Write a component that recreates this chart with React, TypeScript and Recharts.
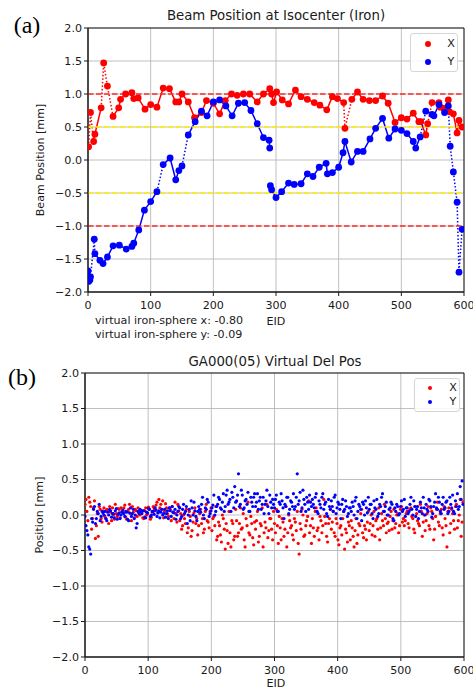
import React from 'react';
import { ComposedChart, Line, XAxis, YAxis, CartesianGrid, ReferenceLine, ReferenceArea } from 'recharts';

const FONT = "'DejaVu Sans', sans-serif";
const RED = '#ff0000';
const BLUE = '#0000ff';

// ---------- Panel (a): Beam Position at Isocenter (Iron) ----------
const xEid = [1, 4, 9, 11, 21, 25, 31, 40, 49, 52, 60, 70, 73, 80, 91, 100, 110, 120, 130, 140, 145, 150, 160, 170, 181, 189, 200, 210, 219, 229, 238, 248, 258, 270, 280, 290, 293, 296, 301, 310, 320, 331, 340, 350, 361, 370, 381, 390, 398, 408, 410, 421, 430, 439, 449, 459, 470, 479, 490, 500, 509, 519, 528, 531, 539, 542, 549, 560, 562, 568, 575, 577, 583, 589, 592, 597];
const xPos = [0.20, 0.72, 0.28, 0.39, 0.79, 1.47, 1.12, 0.66, 0.79, 0.92, 1.00, 1.02, 0.93, 0.94, 0.77, 0.84, 0.80, 1.09, 1.08, 0.88, 0.88, 1.00, 0.88, 0.64, 0.72, 0.90, 0.86, 0.70, 0.90, 1.00, 0.98, 1.00, 1.00, 0.88, 1.00, 1.08, 1.00, 0.87, 1.03, 0.91, 0.85, 1.06, 0.96, 0.92, 0.87, 0.83, 0.76, 0.96, 0.93, 0.87, 0.48, 0.92, 1.03, 0.92, 0.90, 0.90, 0.97, 0.86, 0.57, 0.64, 0.62, 0.71, 0.58, 0.58, 0.38, 0.55, 0.87, 0.87, 0.80, 0.78, 0.91, 0.73, 0.70, 0.41, 0.60, 0.50];
const xDottedFrom = [1, 4, 9, 21, 25, 31, 408, 410, 542];
const xBreakFrom: number[] = [];

const yEid = [0, 1, 3, 4, 10, 11, 19, 24, 31, 40, 50, 61, 70, 73, 81, 90, 100, 110, 120, 131, 140, 145, 150, 160, 171, 181, 190, 200, 210, 220, 230, 240, 250, 260, 270, 280, 289, 290, 291, 293, 300, 309, 320, 329, 340, 350, 359, 369, 380, 382, 390, 400, 407, 410, 420, 430, 439, 450, 459, 470, 480, 490, 500, 509, 519, 523, 530, 539, 549, 552, 560, 569, 575, 578, 583, 589, 592, 597];
const yPos = [-1.68, -1.84, -1.82, -1.77, -1.20, -1.42, -1.52, -1.57, -1.47, -1.30, -1.29, -1.35, -1.31, -1.26, -1.06, -0.76, -0.63, -0.48, -0.07, 0.03, -0.30, -0.16, -0.09, 0.38, 0.58, 0.74, 0.67, 0.88, 0.91, 0.82, 0.67, 0.86, 0.87, 0.75, 0.55, 0.34, 0.30, 0.18, -0.39, -0.45, -0.57, -0.48, -0.35, -0.37, -0.36, -0.21, -0.25, -0.11, -0.05, -0.21, -0.19, -0.11, 0.11, 0.28, -0.03, 0.13, 0.13, 0.32, 0.48, 0.63, 0.33, 0.47, 0.45, 0.40, 0.28, 0.18, 0.35, 0.74, 0.69, 0.67, 0.84, 0.72, 0.82, 0.21, -0.18, -0.64, -1.70, -1.05];
const yDottedFrom = [0, 1, 3, 4, 10, 110, 150, 530, 575, 578, 583, 589, 592];
const yBreakFrom = [290];

const annotX = 'virtual iron-sphere x: -0.80';
const annotY = 'virtual iron-sphere y: -0.09';

// ---------- Panel (b): GA000(05) Virtual Del Pos ----------
// two interleaved samplings: EIDs 0,3,6,... and 1.5,4.5,7.5,...
const delStep = 3;
const delOffset = 1.5;
const delX = [
  0.15, 0.05, 0.25, 0.12, -0.05, 0.20, -0.15, -0.30, 0.08, -0.10,
  0.10, -0.05, 0.05, 0.12, -0.08, 0.00, 0.15, -0.02, 0.08, 0.10,
  0.03, 0.14, -0.06, 0.08, 0.02, 0.12, -0.04, 0.06, 0.10, 0.00,
  0.05, -0.05, 0.10, 0.02, 0.08, -0.03, 0.12, 0.06, 0.18, 0.22,
  0.15, 0.20, 0.05, 0.10, -0.02, 0.08, 0.12, -0.05, 0.02, 0.15,
  -0.08, -0.20, 0.00, -0.12, -0.25, 0.05, -0.30, -0.10, 0.10, -0.05,
  -0.15, 0.08, -0.05, -0.20, 0.15, -0.10, 0.05, -0.22, -0.02, 0.12,
  -0.30, -0.15, -0.38, -0.05, -0.48, -0.22, 0.05, -0.45, -0.12, -0.30,
  -0.08, -0.25, 0.10, -0.18, -0.35, -0.05, 0.18, -0.28, -0.12, -0.42,
  -0.20, 0.05, -0.30, -0.15, -0.45, -0.10, 0.15, -0.22, -0.05, -0.35,
  -0.12, 0.08, -0.40, -0.18, -0.05, -0.30, 0.12, -0.25, -0.08, -0.15,
  -0.35, -0.10, 0.05, -0.55, -0.20, 0.00, -0.28, -0.08, 0.20, -0.15,
  -0.05, -0.30, 0.10, -0.18, -0.02, -0.25, 0.22, -0.12, -0.38, -0.05,
  -0.20, 0.05, -0.30, -0.12, -0.42, -0.15, -0.05, -0.48, -0.25, -0.10,
  -0.35, -0.18, -0.45, -0.05, -0.28, -0.15, 0.08, -0.32, -0.20, -0.10,
  -0.22, 0.00, -0.15, -0.30, -0.05, 0.10, -0.18, -0.08, 0.15, -0.25,
  -0.10, -0.02, -0.20, 0.08, -0.12, 0.02, -0.15, 0.12, -0.05, -0.08,
  0.05, -0.18, 0.10, -0.05, -0.25, 0.02, -0.12, 0.15, -0.30, 0.00,
  -0.08, 0.12, -0.20, 0.05, -0.35, -0.02, 0.18, -0.15, 0.08, -0.28,
  -0.05, -0.45, 0.10, -0.12, 0.02, -0.20, 0.15, -0.08, 0.22, -0.10,
];
const delXb = [
  0.22, -0.08, 0.18, -0.20, 0.10, -0.33, 0.02, 0.12, -0.05, 0.06,
  -0.02, 0.08, -0.12, 0.04, 0.10, -0.06, 0.02, 0.09, -0.04, 0.05,
  0.10, -0.03, 0.05, 0.15, -0.08, 0.04, 0.08, -0.02, 0.03, 0.07,
  -0.04, 0.06, 0.00, 0.11, -0.06, 0.04, 0.09, 0.14, 0.03, 0.10,
  0.08, -0.04, 0.16, 0.02, 0.10, -0.08, 0.04, 0.18, -0.10, 0.06,
  0.02, -0.15, -0.05, 0.08, -0.18, -0.02, -0.22, 0.03, -0.12, -0.28,
  0.02, -0.12, -0.25, 0.05, -0.08, -0.18, 0.10, -0.05, -0.15, -0.35,
  -0.10, -0.28, 0.00, -0.20, -0.12, -0.40, -0.25, -0.08, -0.35, 0.08,
  -0.30, -0.12, -0.20, 0.02, -0.45, -0.15, -0.25, -0.02, -0.32, -0.10,
  -0.08, -0.38, -0.12, 0.10, -0.25, -0.18, -0.32, -0.05, -0.20, 0.05,
  -0.25, -0.15, -0.02, -0.35, -0.10, -0.20, -0.45, 0.00, -0.18, -0.28,
  -0.05, -0.22, -0.40, -0.12, 0.08, -0.30, -0.15, -0.02, -0.25, -0.40,
  -0.18, 0.05, -0.22, -0.35, -0.08, -0.15, -0.02, -0.30, -0.12, 0.08,
  -0.10, -0.25, -0.05, -0.35, -0.18, -0.28, 0.05, -0.20, -0.38, -0.15,
  -0.08, -0.30, -0.22, -0.40, -0.12, 0.02, -0.25, -0.15, -0.35, 0.05,
  -0.12, -0.28, 0.05, -0.08, -0.20, -0.35, 0.02, -0.15, -0.05, -0.12,
  -0.22, 0.05, -0.08, -0.18, 0.00, -0.25, 0.08, -0.10, -0.15, 0.02,
  -0.12, 0.08, -0.02, -0.20, 0.12, -0.08, -0.15, 0.05, -0.10, -0.22,
  0.02, -0.15, 0.10, -0.05, -0.20, 0.08, -0.10, 0.02, -0.18, 0.12,
  -0.15, 0.05, -0.25, 0.08, -0.08, 0.12, -0.18, 0.00, -0.30, 0.18,
];
const delY = [
  -0.02, -0.22, -0.45, -0.55, -0.10, 0.12, -0.05, 0.02, -0.08, 0.05,
  0.00, -0.05, 0.04, 0.08, -0.03, 0.02, 0.06, -0.06, 0.03, 0.00,
  0.07, -0.02, 0.04, -0.08, 0.10, 0.02, -0.05, -0.18, 0.05, 0.08,
  0.02, 0.06, -0.04, 0.03, 0.08, 0.00, 0.05, 0.10, -0.02, 0.06,
  0.04, 0.00, 0.08, 0.02, -0.05, 0.06, 0.12, 0.03, -0.06, 0.05,
  0.10, -0.02, 0.15, 0.05, -0.12, 0.08, 0.20, 0.00, 0.06, -0.08,
  0.12, 0.04, 0.25, -0.05, 0.08, 0.18, 0.02, 0.10, 0.28, 0.05,
  0.15, 0.22, 0.08, 0.30, 0.12, 0.35, 0.18, 0.05, 0.25, 0.40,
  0.20, 0.58, 0.15, 0.28, 0.10, 0.22, 0.32, 0.05, 0.18, 0.25,
  0.12, 0.30, 0.20, 0.08, 0.25, 0.15, 0.35, 0.02, 0.18, 0.22,
  0.10, 0.28, 0.05, 0.15, 0.20, -0.05, 0.12, 0.25, 0.08, 0.18,
  0.30, 0.12, 0.58, 0.20, 0.05, 0.35, 0.15, 0.25, 0.08, 0.18,
  0.22, 0.10, 0.30, 0.02, 0.15, 0.25, 0.08, 0.18, -0.02, 0.12,
  0.20, 0.05, 0.28, 0.10, 0.15, -0.05, 0.22, 0.08, 0.12, 0.02,
  0.10, 0.18, 0.00, 0.25, 0.05, 0.12, -0.08, 0.15, 0.20, 0.03,
  0.08, 0.15, -0.05, 0.10, 0.22, 0.02, 0.12, 0.30, 0.05, 0.18,
  0.00, 0.10, 0.15, -0.08, 0.05, 0.12, 0.02, 0.20, 0.08, -0.02,
  0.10, 0.05, 0.25, 0.00, 0.12, 0.08, -0.05, 0.18, 0.02, 0.10,
  0.15, 0.05, 0.20, -0.03, 0.12, 0.30, 0.08, 0.18, 0.02, 0.25,
  0.10, 0.20, 0.05, 0.15, 0.28, 0.02, 0.12, 0.08, 0.40, 0.48,
];
const delYb = [
  -0.15, -0.28, -0.48, -0.05, 0.08, -0.12, 0.05, 0.15, -0.02, 0.03,
  0.05, -0.08, 0.00, 0.06, 0.02, -0.04, 0.09, 0.01, -0.05, 0.04,
  0.02, 0.05, -0.06, 0.03, -0.02, 0.08, 0.00, -0.12, 0.02, 0.05,
  0.06, -0.03, 0.04, 0.09, -0.02, 0.05, 0.01, 0.07, 0.03, -0.04,
  0.08, 0.02, -0.03, 0.06, 0.10, -0.02, 0.04, 0.08, 0.00, 0.12,
  -0.05, 0.08, 0.02, 0.12, 0.00, -0.08, 0.10, 0.18, -0.02, 0.05,
  0.08, 0.15, 0.00, 0.10, 0.22, -0.02, 0.06, 0.14, 0.00, 0.12,
  0.25, 0.10, 0.18, 0.05, 0.28, 0.15, 0.22, 0.32, 0.10, 0.18,
  0.28, 0.12, 0.35, 0.08, 0.20, 0.15, 0.05, 0.25, 0.12, 0.30,
  0.18, 0.08, 0.25, 0.15, 0.02, 0.20, 0.12, 0.28, 0.10, 0.15,
  0.22, 0.05, 0.18, 0.30, 0.10, 0.15, 0.25, 0.02, 0.20, 0.12,
  0.08, 0.25, 0.15, 0.32, 0.10, 0.22, 0.05, 0.18, 0.28, 0.12,
  0.15, 0.25, 0.05, 0.20, 0.10, 0.30, 0.15, 0.02, 0.22, 0.08,
  0.12, 0.25, 0.02, 0.18, 0.08, 0.15, 0.05, 0.20, -0.02, 0.10,
  0.05, 0.12, 0.20, -0.05, 0.15, 0.08, 0.18, 0.00, 0.10, 0.25,
  0.15, 0.02, 0.20, 0.08, -0.02, 0.15, 0.25, 0.05, 0.12, 0.00,
  0.08, 0.18, -0.05, 0.10, 0.15, 0.00, 0.12, 0.05, 0.22, 0.10,
  0.02, 0.15, 0.08, 0.20, -0.02, 0.12, 0.05, 0.10, 0.25, 0.00,
  0.08, 0.22, 0.12, 0.02, 0.18, 0.10, 0.25, 0.05, 0.15, 0.08,
  0.18, 0.02, 0.25, 0.10, 0.05, 0.20, 0.30, 0.12, 0.22, 0.15,
];

const xTicks = [0, 100, 200, 300, 400, 500, 600];
const yTicks = [-2, -1.5, -1, -0.5, 0, 0.5, 1, 1.5, 2];
const fmtY = (v: number) => (v < 0 ? '\u2212' + Math.abs(v).toFixed(1) : v.toFixed(1));

type P = { eid: number; v: number | null };

function buildLines(eids: number[], vals: number[], dottedFrom: number[], breakFrom: number[]) {
  const solid: P[] = [];
  const dotted: P[] = [];
  const all: P[] = [];
  for (let i = 0; i < eids.length; i++) {
    const p = { eid: eids[i], v: vals[i] };
    all.push(p);
    solid.push(p);
    dotted.push(p);
    if (i < eids.length - 1) {
      const mid = (eids[i] + eids[i + 1]) / 2;
      const isDot = dottedFrom.includes(eids[i]);
      const isBreak = breakFrom.includes(eids[i]);
      if (isDot || isBreak) solid.push({ eid: mid, v: null });
      if (!isDot || isBreak) dotted.push({ eid: mid, v: null });
    }
  }
  return { solid, dotted, all };
}

function buildScatter(a: number[], b: number[]): P[] {
  const out: P[] = [];
  a.forEach((v, i) => {
    out.push({ eid: i * delStep, v });
    if (b[i] !== undefined) out.push({ eid: i * delStep + delOffset, v: b[i] });
  });
  return out;
}

const redA = buildLines(xEid, xPos, xDottedFrom, xBreakFrom);
const blueA = buildLines(yEid, yPos, yDottedFrom, yBreakFrom);
const redB = buildScatter(delX, delXb);
const blueB = buildScatter(delY, delYb);

const tickStyle = { fontSize: 11.1, fill: '#1a1a1a', fontFamily: FONT };

function Txt(props: { x: number; y: number; size: number; children: React.ReactNode; rotate?: boolean; left?: boolean; serif?: boolean }) {
  const { x, y, size, children, rotate, left, serif } = props;
  const tr = left ? 'translate(0,-50%)' : 'translate(-50%,-50%)' + (rotate ? ' rotate(-90deg)' : '');
  return (
    <div
      style={{
        position: 'absolute',
        left: x,
        top: y,
        transform: tr,
        fontSize: size,
        fontFamily: serif ? "'Liberation Serif', 'DejaVu Serif', serif" : FONT,
        color: serif ? '#000' : '#1a1a1a',
        whiteSpace: 'nowrap',
        lineHeight: 1,
      }}
    >
      {children}
    </div>
  );
}

function LegendBox(props: { x: number; y: number; w: number; h: number; r: number; dx: number; tx: number; rows: number[] }) {
  const { x, y, w, h, r, dx, tx, rows } = props;
  const items = [
    { label: 'X', color: RED },
    { label: 'Y', color: BLUE },
  ];
  return (
    <div
      style={{
        position: 'absolute',
        left: x,
        top: y,
        width: w,
        height: h,
        boxSizing: 'border-box',
        border: '1px solid #d6d6d6',
        borderRadius: 3,
        background: 'rgba(255,255,255,0.85)',
      }}
    >
      {items.map((it, i) => (
        <React.Fragment key={it.label}>
          <div
            style={{
              position: 'absolute',
              left: dx - r,
              top: rows[i] - r,
              width: 2 * r,
              height: 2 * r,
              borderRadius: '50%',
              background: it.color,
            }}
          />
          <div
            style={{
              position: 'absolute',
              left: tx,
              top: rows[i],
              transform: 'translate(-50%,-50%)',
              fontSize: 11.1,
              fontFamily: FONT,
              color: '#1a1a1a',
              lineHeight: 1,
            }}
          >
            {it.label}
          </div>
        </React.Fragment>
      ))}
    </div>
  );
}

function Frame() {
  return <ReferenceArea x1={0} x2={600} y1={-2} y2={2} fill="none" fillOpacity={0} stroke="#1a1a1a" strokeWidth={1} ifOverflow="visible" />;
}

export default function App() {
  return (
    <div style={{ position: 'absolute', left: 0, top: 0, width: 473, height: 687, background: '#fff', overflow: 'hidden' }}>
      {/* Panel (a) */}
      <div style={{ position: 'absolute', left: 0, top: 0 }}>
        <ComposedChart width={473} height={345} margin={{ top: 28, right: 9, bottom: 33, left: 0 }}>
          <CartesianGrid stroke="#b0b0b0" strokeWidth={0.8} />
          <XAxis
            type="number"
            dataKey="eid"
            domain={[0, 600]}
            ticks={xTicks}
            allowDataOverflow
            height={20}
            tickSize={4}
            tickMargin={5}
            tick={tickStyle}
            stroke="#1a1a1a"
          />
          <YAxis
            type="number"
            dataKey="v"
            domain={[-2, 2]}
            ticks={yTicks}
            allowDataOverflow
            width={88}
            tickSize={4}
            tickMargin={2}
            tick={tickStyle}
            tickFormatter={fmtY}
            stroke="#1a1a1a"
          />
          <Line data={redA.dotted} dataKey="v" stroke={RED} strokeWidth={1.5} strokeDasharray="1.5 2" dot={false} connectNulls={false} isAnimationActive={false} />
          <Line data={redA.solid} dataKey="v" stroke={RED} strokeWidth={1.5} dot={false} connectNulls={false} isAnimationActive={false} />
          <Line data={redA.all} dataKey="v" stroke="none" dot={{ r: 3.4, fill: RED, stroke: RED, strokeWidth: 0 }} isAnimationActive={false} />
          <Line data={blueA.dotted} dataKey="v" stroke={BLUE} strokeWidth={1.5} strokeDasharray="1.5 2" dot={false} connectNulls={false} isAnimationActive={false} />
          <Line data={blueA.solid} dataKey="v" stroke={BLUE} strokeWidth={1.5} dot={false} connectNulls={false} isAnimationActive={false} />
          <Line data={blueA.all} dataKey="v" stroke="none" dot={{ r: 3.4, fill: BLUE, stroke: BLUE, strokeWidth: 0 }} isAnimationActive={false} />
          <ReferenceLine y={1} stroke="#ff2a2a" strokeWidth={1.5} strokeDasharray="5.5 2.5" />
          <ReferenceLine y={-1} stroke="#ff2a2a" strokeWidth={1.5} strokeDasharray="5.5 2.5" />
          <ReferenceLine y={0.5} stroke="#ffee00" strokeWidth={1.5} strokeDasharray="5.5 2.5" />
          <ReferenceLine y={-0.5} stroke="#ffee00" strokeWidth={1.5} strokeDasharray="5.5 2.5" />
          {Frame()}
        </ComposedChart>
      </div>
      <Txt x={276} y={16} size={13.3}>Beam Position at Isocenter (Iron)</Txt>
      <Txt x={41} y={160} size={11.1} rotate>Beam Position [mm]</Txt>
      <Txt x={276} y={322} size={11.1}>EID</Txt>
      <Txt x={95} y={321} size={11.1} left>{annotX}</Txt>
      <Txt x={95} y={335} size={11.1} left>{annotY}</Txt>
      <Txt x={27} y={25} size={24} serif>(a)</Txt>
      <LegendBox x={410} y={33} w={48} h={39} r={3.4} dx={17} tx={40} rows={[10, 28]} />

      {/* Panel (b) */}
      <div style={{ position: 'absolute', left: 0, top: 345 }}>
        <ComposedChart width={473} height={342} margin={{ top: 28, right: 9, bottom: 0, left: 0 }}>
          <CartesianGrid stroke="#b0b0b0" strokeWidth={0.8} />
          <XAxis
            type="number"
            dataKey="eid"
            domain={[0, 600]}
            ticks={xTicks}
            allowDataOverflow
            height={30}
            tickSize={4}
            tickMargin={5}
            tick={tickStyle}
            stroke="#1a1a1a"
          />
          <YAxis
            type="number"
            dataKey="v"
            domain={[-2, 2]}
            ticks={yTicks}
            allowDataOverflow
            width={85}
            tickSize={4}
            tickMargin={2}
            tick={tickStyle}
            tickFormatter={fmtY}
            stroke="#1a1a1a"
          />
          <Line data={redB} dataKey="v" stroke="none" dot={{ r: 1.6, fill: RED, stroke: RED, strokeWidth: 0 }} isAnimationActive={false} />
          <Line data={blueB} dataKey="v" stroke="none" dot={{ r: 1.6, fill: BLUE, stroke: BLUE, strokeWidth: 0 }} isAnimationActive={false} />
          {Frame()}
        </ComposedChart>
      </div>
      <Txt x={275} y={362} size={13.3}>GA000(05) Virtual Del Pos</Txt>
      <Txt x={40} y={515} size={11.1} rotate>Position [mm]</Txt>
      <Txt x={276} y={684} size={11.1}>EID</Txt>
      <Txt x={22} y={377} size={24} serif>(b)</Txt>
      <LegendBox x={414} y={378} w={46} h={34} r={2} dx={15} tx={38} rows={[9, 23]} />
    </div>
  );
}
